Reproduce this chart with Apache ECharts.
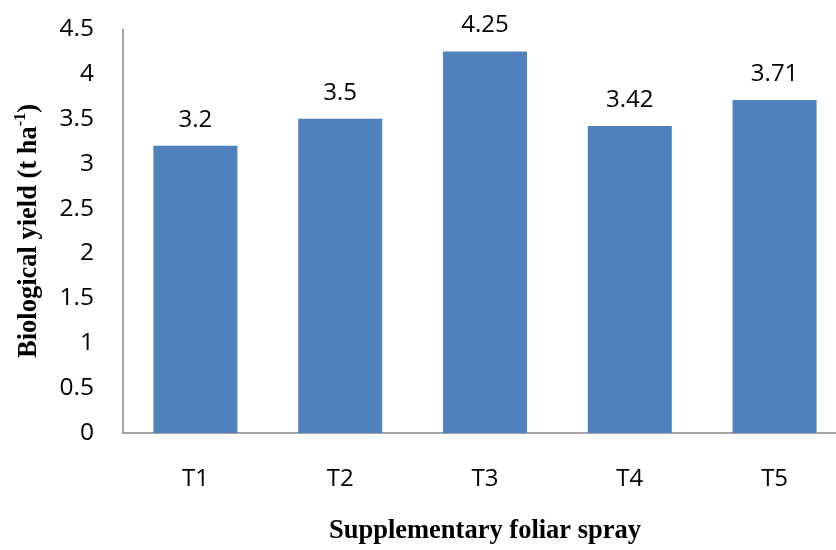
<!DOCTYPE html>
<html>
<head>
<meta charset="utf-8">
<script src="https://cdn.jsdelivr.net/npm/echarts@6/dist/echarts.min.js"></script>
<style>
  html, body { margin: 0; padding: 0; background: #fff; overflow: hidden; }
  #chart { width: 860px; height: 550px; }
</style>
</head>
<body>
<div id="chart"></div>
<script>
// Treatments and biological yield (t/ha)
const categories = ['T1', 'T2', 'T3', 'T4', 'T5'];
const yieldValues = [3.2, 3.5, 4.25, 3.42, 3.71];
const yTicks = { min: 0, max: 4.5, step: 0.5 };

const labelFont = '"Open Sans", sans-serif';
const titleFont = '"Liberation Serif", "Times New Roman", serif';

const chart = echarts.init(document.getElementById('chart'), null, { renderer: 'canvas' });

// The plot runs a little past the visible right edge, so the canvas is wider than the window.
chart.setOption({
  animation: false,
  backgroundColor: '#ffffff',
  grid: { left: 123, right: 13, top: 29, bottom: 115, containLabel: false },
  xAxis: {
    type: 'category',
    data: categories,
    name: 'Supplementary foliar spray',
    nameLocation: 'middle',
    nameGap: 85,
    nameTextStyle: { fontFamily: titleFont, fontWeight: 'bold', fontSize: 26.5, color: '#000' },
    axisLine: { lineStyle: { color: '#868686', width: 1.5 } },
    axisTick: { show: false },
    axisLabel: { fontFamily: labelFont, fontSize: 24, color: '#000', margin: 34 }
  },
  yAxis: {
    type: 'value',
    min: yTicks.min,
    max: yTicks.max,
    interval: yTicks.step,
    name: '{a|Biological yield (t ha}{s|-1}{a|)}',
    nameLocation: 'middle',
    nameRotate: 90,
    nameGap: 80,
    nameTextStyle: {
      rich: {
        a: { fontFamily: titleFont, fontWeight: 'bold', fontSize: 26.5, color: '#000', lineHeight: 30, verticalAlign: 'bottom' },
        s: { fontFamily: titleFont, fontWeight: 'bold', fontSize: 16, color: '#000', lineHeight: 30, verticalAlign: 'top' }
      }
    },
    axisLine: { show: true, lineStyle: { color: '#868686', width: 1.5 } },
    axisTick: { show: false },
    splitLine: { show: false },
    axisLabel: { fontFamily: labelFont, fontSize: 24.5, color: '#000', margin: 29 }
  },
  series: [{
    type: 'bar',
    data: yieldValues,
    barWidth: 84,
    itemStyle: { color: '#4F81BD' },
    label: {
      show: true,
      position: 'top',
      distance: 14,
      fontFamily: labelFont,
      fontSize: 24,
      color: '#000'
    }
  }]
});
</script>
</body>
</html>
